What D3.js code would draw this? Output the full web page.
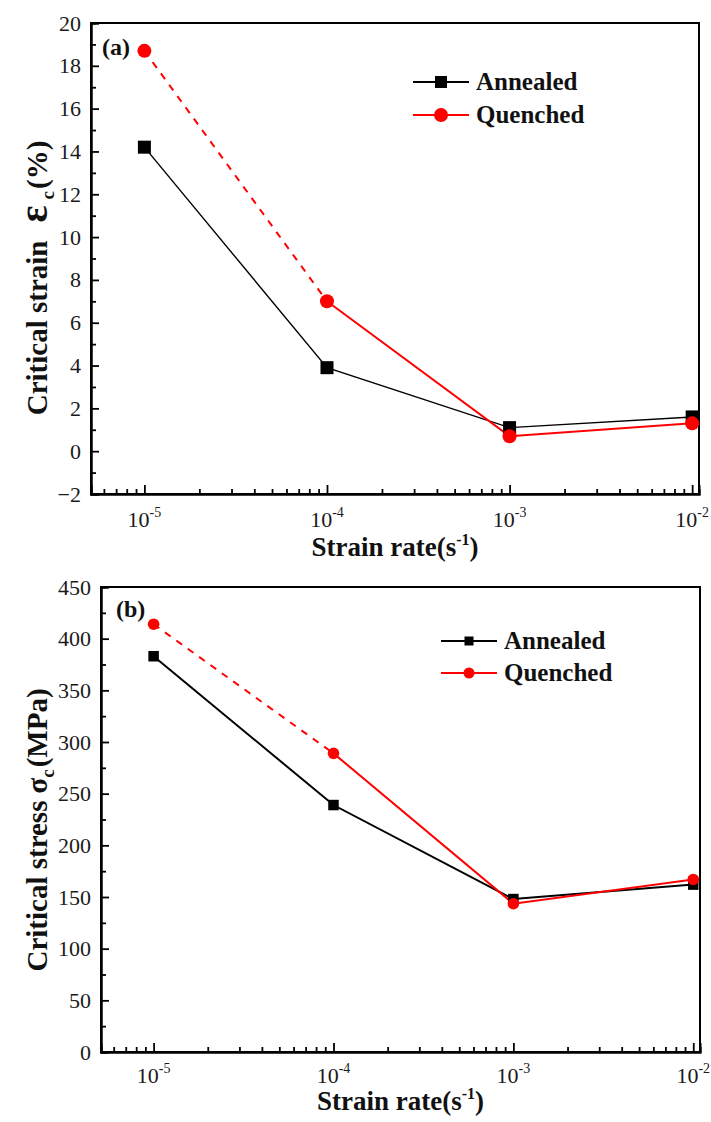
<!DOCTYPE html>
<html>
<head>
<meta charset="utf-8">
<script src="https://cdn.jsdelivr.net/npm/d3@7"></script>
<style>
html,body{margin:0;padding:0;background:#fff;}
svg{display:block;}
svg text{font-family:"Liberation Serif","Times New Roman",Times,serif !important;}
</style>
</head>
<body>
<svg id="chart" width="711" height="1122"></svg>
<script>
// ---- data ----
const strainRates = [1e-5, 1e-4, 1e-3, 1e-2];
const decadeTicks = [1e-5, 1e-4, 1e-3, 1e-2];
const decadeExponents = ["-5", "-4", "-3", "-2"];
const seriesNames = ["Annealed", "Quenched"];

const strainAnnealed = [14.2, 3.9, 1.1, 1.6];
const strainQuenched = [18.7, 7.0, 0.7, 1.3];
const strainTicks = [-2, 0, 2, 4, 6, 8, 10, 12, 14, 16, 18, 20];

const stressAnnealed = [383, 239, 148, 162];
const stressQuenched = [414, 289, 143.5, 167];
const stressTicks = [0, 50, 100, 150, 200, 250, 300, 350, 400, 450];

const xDomain = [5.1e-6, 0.0109];

const FONT = '"Liberation Serif","Times New Roman",Times,serif';
const svg = d3.select("#chart");

function minorTicks(domain) {
  const out = [];
  for (let e = -6; e <= -2; e++) {
    for (let m = 2; m <= 9; m++) {
      const v = m * Math.pow(10, e);
      if (v >= domain[0] && v <= domain[1]) out.push(v);
    }
  }
  return out;
}

function drawPanel(cfg) {
  const g = svg.append("g").attr("font-family", FONT);
  const x = d3.scaleLog().domain(xDomain).range([cfg.left, cfg.right]);
  const y = d3.scaleLinear().domain(cfg.yDomain).range([cfg.bottom, cfg.top]);

  // frame
  g.append("rect")
    .attr("x", cfg.left).attr("y", cfg.top)
    .attr("width", cfg.right - cfg.left).attr("height", cfg.bottom - cfg.top)
    .attr("fill", "none").attr("stroke", "#000").attr("stroke-width", 2);

  // x axis major
  const xMaj = g.append("g").attr("transform", `translate(0,${cfg.bottom})`)
    .call(d3.axisBottom(x).tickValues(decadeTicks).tickSize(-9).tickFormat(""));
  // x axis minor
  const xMin = g.append("g").attr("transform", `translate(0,${cfg.bottom})`)
    .call(d3.axisBottom(x).tickValues(minorTicks(xDomain)).tickSize(-5).tickFormat(""));
  [xMaj, xMin].forEach(a => {
    a.select(".domain").attr("stroke-width", 2);
    a.selectAll(".tick line").attr("stroke-width", 1.8);
  });

  // x tick labels with superscripts
  const lbl = g.append("g");
  decadeTicks.forEach((v, i) => {
    const t = lbl.append("text")
      .attr("x", x(v)).attr("y", cfg.bottom + cfg.xLabelDy)
      .attr("text-anchor", "middle").attr("font-family", FONT)
      .attr("font-size", 22).attr("fill", "#1a1a1a");
    t.append("tspan").text("10");
    t.append("tspan").attr("dy", -10).attr("font-size", 14).text(decadeExponents[i]);
  });

  // y axis major
  const yMaj = g.append("g").attr("transform", `translate(${cfg.left},0)`)
    .call(d3.axisLeft(y).tickValues(cfg.yTicks).tickSize(-8).tickPadding(10).tickFormat(d3.format("d")));
  yMaj.attr("font-family", FONT);
  yMaj.select(".domain").attr("stroke-width", 2);
  yMaj.selectAll(".tick line").attr("stroke-width", 1.8);
  yMaj.selectAll(".tick text").attr("font-size", 22).attr("fill", "#1a1a1a")
    .attr("font-family", FONT);
  // y minor
  const yMinorVals = cfg.yTicks.slice(0, -1).map((v, i) => (v + cfg.yTicks[i + 1]) / 2);
  const yMin = g.append("g").attr("transform", `translate(${cfg.left},0)`)
    .call(d3.axisLeft(y).tickValues(yMinorVals).tickSize(-5).tickFormat(""));
  yMin.select(".domain").attr("stroke-width", 2);
  yMin.selectAll(".tick line").attr("stroke-width", 1.8);

  // lines
  const line = d3.line().x(d => x(d[0])).y(d => y(d[1]));
  const aPts = strainRates.map((r, i) => [r, cfg.annealed[i]]);
  const qPts = strainRates.map((r, i) => [r, cfg.quenched[i]]);

  g.append("path").attr("d", line(aPts)).attr("fill", "none")
    .attr("stroke", "#000").attr("stroke-width", cfg.aWidth);
  g.append("path").attr("d", line(qPts.slice(0, 2))).attr("fill", "none")
    .attr("stroke", "#ff0000").attr("stroke-width", cfg.qWidth).attr("stroke-dasharray", "7,7");
  g.append("path").attr("d", line(qPts.slice(1))).attr("fill", "none")
    .attr("stroke", "#ff0000").attr("stroke-width", cfg.qWidth);

  g.selectAll(null).data(aPts).enter().append("rect")
    .attr("x", d => x(d[0]) - cfg.sq / 2).attr("y", d => y(d[1]) - cfg.sq / 2)
    .attr("width", cfg.sq).attr("height", cfg.sq).attr("fill", "#000");
  g.selectAll(null).data(qPts).enter().append("circle")
    .attr("cx", d => x(d[0])).attr("cy", d => y(d[1]))
    .attr("r", cfg.cr).attr("fill", "#ff0000");

  // legend
  const L = cfg.legend;
  const colors = ["#000", "#ff0000"];
  seriesNames.forEach((name, i) => {
    const ly = L.y + i * L.gap;
    g.append("line").attr("x1", L.x).attr("x2", L.x + L.len)
      .attr("y1", ly).attr("y2", ly).attr("stroke", colors[i]).attr("stroke-width", cfg.legendLW);
    if (i === 0) {
      g.append("rect").attr("x", L.x + L.len / 2 - L.sq / 2).attr("y", ly - L.sq / 2)
        .attr("width", L.sq).attr("height", L.sq).attr("fill", "#000");
    } else {
      g.append("circle").attr("cx", L.x + L.len / 2).attr("cy", ly).attr("r", L.cr).attr("fill", "#ff0000");
    }
    g.append("text").attr("x", L.x + L.len + 7).attr("y", ly + 8).attr("font-family", FONT)
      .attr("font-size", 25).attr("font-weight", "bold").attr("fill", "#111").text(name);
  });

  // panel label
  g.append("text").attr("x", cfg.panelLabel.x).attr("y", cfg.panelLabel.y).attr("font-family", FONT)
    .attr("font-size", 24).attr("font-weight", "bold").attr("fill", "#111").text(cfg.panelLabel.text);

  // x title
  const xt = g.append("text").attr("x", (cfg.left + cfg.right) / 2).attr("y", cfg.xTitleY)
    .attr("text-anchor", "middle").attr("font-family", FONT)
    .attr("font-size", 27).attr("font-weight", "bold").attr("fill", "#111");
  xt.append("tspan").text("Strain rate(s");
  xt.append("tspan").attr("dy", -11).attr("font-size", 16).text("-1");
  xt.append("tspan").attr("dy", 11).text(")");

  // y title
  const yt = g.append("text")
    .attr("transform", `translate(${cfg.yTitleX},${cfg.yTitleCY}) rotate(-90)`)
    .attr("text-anchor", "middle").attr("font-family", FONT)
    .attr("font-size", 29).attr("font-weight", "bold").attr("fill", "#111");
  yt.append("tspan").text(cfg.yTitle[0]);
  yt.append("tspan").attr("dx", cfg.symDx).attr("font-size", cfg.symSize).text(cfg.yTitle[1]);
  yt.append("tspan").attr("dy", 7).attr("dx", cfg.subDx).attr("font-size", 19).text("c");
  yt.append("tspan").attr("dy", -7).attr("dx", 2).text(cfg.yTitle[2]);
}

drawPanel({
  left: 91, right: 699, top: 23, bottom: 494,
  yDomain: [-2, 20], yTicks: strainTicks,
  annealed: strainAnnealed, quenched: strainQuenched,
  aWidth: 1.4, qWidth: 2, sq: 13, cr: 7,
  xLabelDy: 33,
  legend: { x: 413, y: 82, gap: 33, len: 56, sq: 12, cr: 7 },
  legendLW: 1.8,
  panelLabel: { x: 102, y: 55, text: "(a)" },
  xTitleY: 556,
  yTitleX: 47, yTitleCY: 278,
  symDx: 18, symSize: 40, subDx: 6,
  yTitle: ["Critical strain", "\u03B5", "(%)"]
});

drawPanel({
  left: 101, right: 700, top: 587, bottom: 1052,
  yDomain: [0, 450], yTicks: stressTicks,
  annealed: stressAnnealed, quenched: stressQuenched,
  aWidth: 2, qWidth: 2, sq: 10.5, cr: 5.8,
  xLabelDy: 31,
  legend: { x: 441, y: 641, gap: 32, len: 56, sq: 9, cr: 5.5 },
  legendLW: 2,
  panelLabel: { x: 116, y: 617, text: "(b)" },
  xTitleY: 1110,
  yTitleX: 47, yTitleCY: 830,
  symDx: 7, symSize: 29, subDx: 0,
  yTitle: ["Critical stress", "\u03C3", "(MPa)"]
});
</script>
</body>
</html>
